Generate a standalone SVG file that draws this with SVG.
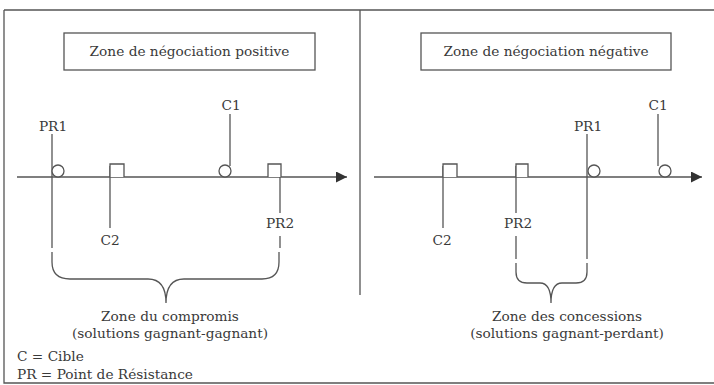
<svg xmlns="http://www.w3.org/2000/svg" width="714" height="385" viewBox="0 0 714 385">
<defs>
<style>
.ln{stroke:#555;stroke-width:1.3;fill:none}
.mk{stroke:#555;stroke-width:1.3;fill:#fff}
text{font-family:'DejaVu Serif','Liberation Serif',serif;font-size:13.7px;fill:#3a3a3a}
.tm{text-anchor:middle}
</style>
<marker id="arr" viewBox="0 0 10 10" refX="10" refY="5" markerWidth="11" markerHeight="11" markerUnits="userSpaceOnUse" orient="auto">
<path d="M0,0 L10,5 L0,10 z" fill="#333"/>
</marker>
</defs>
<rect width="714" height="385" fill="#fff"/>
<g id="frame">
<path class="ln" d="M4,10 H714 M4,10 V383 H714 M360,10 V295"/>
</g>
<g id="title-left">
<rect class="ln" x="64" y="33" width="251" height="37"/>
<text class="tm" x="189.5" y="56">Zone de négociation positive</text>
</g>
<g id="title-right">
<rect class="ln" x="421" y="33" width="250" height="37"/>
<text class="tm" x="546" y="56">Zone de négociation négative</text>
</g>
<g id="connectors">
<line class="ln" x1="17" y1="177" x2="347" y2="177" marker-end="url(#arr)"/>
<line class="ln" x1="374" y1="177" x2="702" y2="177" marker-end="url(#arr)"/>
<line class="ln" x1="52" y1="134" x2="52" y2="248"/>
<line class="ln" x1="110" y1="166" x2="110" y2="228"/>
<line class="ln" x1="230" y1="114" x2="230" y2="166"/>
<line class="ln" x1="280" y1="166" x2="280" y2="213"/>
<line class="ln" x1="280" y1="236" x2="280" y2="248"/>
<line class="ln" x1="443" y1="166" x2="443" y2="228"/>
<line class="ln" x1="516" y1="166" x2="516" y2="213"/>
<line class="ln" x1="516" y1="236" x2="516" y2="259"/>
<line class="ln" x1="587" y1="134" x2="587" y2="259"/>
<line class="ln" x1="658" y1="114" x2="658" y2="166"/>
<path class="ln" d="M52,252 V262 Q52,279 70,279 H148 Q166,279 166,303 Q166,279 184,279 H262 Q279,279 279,262 V252"/>
<path class="ln" d="M516,263 V272 Q516,283 527,283 H540 Q551,283 551,303 Q551,283 562,283 H576 Q587,283 587,272 V263"/>
</g>
<g id="pr1-left">
<circle class="mk" cx="58" cy="171" r="6"/>
<text class="tm" x="53" y="131">PR1</text>
</g>
<g id="c2-left">
<path class="mk" d="M110,177 V164 H124 V177"/>
<text class="tm" x="110" y="245">C2</text>
</g>
<g id="c1-left">
<circle class="mk" cx="225" cy="171" r="6"/>
<text class="tm" x="231" y="110">C1</text>
</g>
<g id="pr2-left">
<path class="mk" d="M268,177 V164 H281 V177"/>
<text class="tm" x="280" y="228">PR2</text>
</g>
<g id="c2-right">
<path class="mk" d="M443,177 V164 H457 V177"/>
<text class="tm" x="442" y="245">C2</text>
</g>
<g id="pr2-right">
<path class="mk" d="M516,177 V164 H528 V177"/>
<text class="tm" x="518" y="228">PR2</text>
</g>
<g id="pr1-right">
<circle class="mk" cx="594" cy="171" r="6"/>
<text class="tm" x="588" y="131">PR1</text>
</g>
<g id="c1-right">
<circle class="mk" cx="665" cy="171" r="6"/>
<text class="tm" x="658" y="110">C1</text>
</g>
<g id="zone-compromis">
<text class="tm" x="170" y="321">Zone du compromis</text>
<text class="tm" x="170" y="338">(solutions gagnant-gagnant)</text>
</g>
<g id="zone-concessions">
<text class="tm" x="567" y="321">Zone des concessions</text>
<text class="tm" x="567" y="338">(solutions gagnant-perdant)</text>
</g>
<g id="legend">
<text x="17" y="361">C = Cible</text>
<text x="17" y="379">PR = Point de Résistance</text>
</g>
</svg>
